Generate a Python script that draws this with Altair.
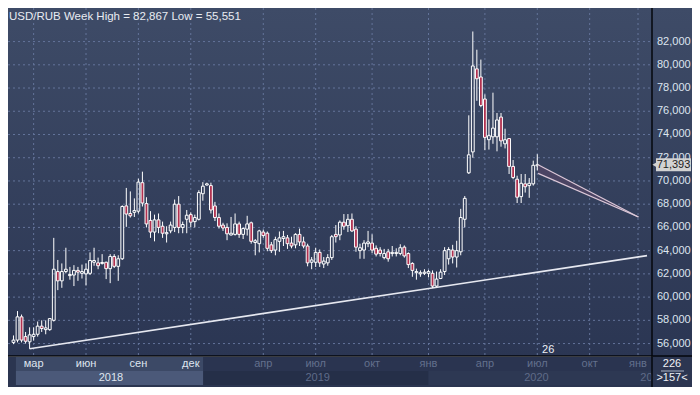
import altair as alt
import pandas as pd

# ---------------- data (weekly USD/RUB candles) ----------------
opens = [56.1, 56.3, 58.3, 56.6, 56.15, 56.6, 56.8, 57.5, 57.2, 57.2,
         58.0, 62.2, 61.4, 62.2, 61.85, 61.9, 62.3, 62.05, 62.0, 62.05,
         63.0, 62.95, 62.9, 63.0, 62.45, 63.5, 62.65, 63.3, 67.85, 67.2,
         67.3, 67.4, 69.85, 68.05, 66.6, 65.6, 66.65, 66.1, 65.45, 65.7,
         66.0, 68.0, 66.0, 66.7, 67.1, 66.5, 66.7, 68.9, 69.65, 69.6,
         67.85, 66.85, 66.2, 66.0, 65.35, 65.4, 66.3, 65.4, 65.85, 66.4,
         64.7, 64.6, 65.6, 65.5, 64.5, 64.05, 64.8, 65.05, 65.1, 64.65,
         64.5, 65.4, 64.75, 64.4, 63.0, 63.0, 63.85, 62.85, 62.95, 63.4,
         65.4, 65.35, 66.45, 66.15, 66.7, 65.85, 64.0, 64.05, 64.6, 64.65,
         64.2, 64.05, 63.4, 63.9, 63.75, 63.75, 63.75, 64.3, 63.75, 62.9,
         62.1, 62.0, 62.05, 62.05, 62.05, 60.95, 61.6, 62.2, 63.3, 64.05,
         63.45, 63.9, 66.7, 70.7, 72.5, 79.65, 78.95, 77.05, 73.55, 73.8,
         73.8, 75.5, 73.2, 73.65, 71.25, 70.15, 68.65, 69.75, 69.6, 69.75,
         71.3]
highs = [56.7, 58.8, 58.5, 57.0, 57.4, 57.4, 57.9, 58.0, 58.0, 58.2,
         65.1, 63.2, 62.9, 64.25, 62.6, 62.75, 62.6, 62.8, 62.9, 63.85,
         64.25, 63.4, 63.7, 63.05, 63.7, 63.7, 63.6, 67.9, 69.4, 69.1,
         68.5, 70.2, 70.8, 68.6, 67.4, 67.1, 67.2, 66.5, 66.1, 66.5,
         68.4, 68.7, 66.5, 67.5, 67.3, 67.1, 69.2, 69.9, 69.85, 69.85,
         68.2, 67.2, 66.4, 66.35, 66.9, 67.2, 66.5, 66.0, 67.0, 66.5,
         65.0, 65.8, 65.8, 65.65, 64.75, 65.2, 65.65, 65.7, 65.35, 65.2,
         65.5, 65.9, 65.2, 64.6, 63.45, 64.25, 64.1, 63.45, 63.7, 65.35,
         66.2, 66.6, 67.15, 67.15, 67.2, 66.1, 64.6, 64.9, 65.7, 65.4,
         64.45, 64.3, 64.15, 64.15, 64.4, 64.2, 64.55, 64.45, 63.85, 63.0,
         62.45, 62.3, 62.4, 62.35, 62.3, 62.2, 62.4, 64.3, 64.3, 64.5,
         64.85, 67.6, 68.7, 75.65, 82.867, 81.3, 80.45, 77.45, 75.3, 77.6,
         75.85, 75.85, 74.5, 73.65, 71.8, 70.45, 70.6, 70.6, 70.25, 71.75,
         72.3]
lows = [55.95, 56.1, 56.1, 56.0, 55.551, 56.25, 56.6, 57.0, 56.8, 57.1,
        57.9, 60.6, 60.8, 62.05, 61.5, 60.95, 61.4, 61.6, 61.0, 61.9,
        62.7, 62.4, 62.8, 61.55, 61.2, 62.5, 61.4, 63.2, 66.05, 66.85,
        66.9, 67.2, 67.8, 66.0, 65.1, 64.8, 65.5, 65.1, 64.7, 65.5,
        65.6, 65.5, 65.5, 65.5, 66.0, 66.0, 66.6, 68.3, 69.6, 67.2,
        66.55, 65.9, 65.7, 64.9, 65.3, 65.3, 65.1, 65.0, 65.3, 64.6,
        63.6, 63.85, 65.1, 63.95, 63.8, 63.6, 63.9, 64.4, 64.15, 64.2,
        64.2, 64.4, 64.2, 62.65, 62.4, 62.6, 62.6, 62.5, 62.7, 63.2,
        64.7, 64.9, 65.8, 65.6, 65.6, 63.9, 63.3, 63.3, 64.3, 63.8,
        63.5, 63.5, 63.25, 63.05, 63.5, 63.5, 63.6, 63.4, 62.5, 61.75,
        61.5, 61.75, 61.9, 61.7, 60.8, 60.85, 61.55, 61.9, 62.8, 62.9,
        62.55, 63.6, 66.0, 70.6, 72.0, 76.9, 76.35, 72.65, 72.7, 73.2,
        72.55, 72.95, 72.8, 70.6, 70.15, 68.1, 68.1, 69.0, 68.55, 69.6,
        70.9]
closes = [56.3, 58.3, 56.3, 56.2, 56.75, 56.8, 57.5, 57.3, 57.35, 58.15,
          62.4, 61.4, 62.2, 62.4, 61.95, 62.3, 62.15, 62.2, 62.4, 63.15,
          63.15, 62.7, 62.98, 62.45, 63.5, 62.65, 63.3, 67.8, 67.15, 67.0,
          67.45, 69.9, 68.1, 66.3, 65.6, 66.65, 66.0, 65.5, 65.55, 66.2,
          68.0, 66.0, 66.25, 67.05, 66.45, 66.85, 69.0, 69.55, 69.75, 67.5,
          66.85, 66.1, 65.95, 65.45, 65.5, 66.3, 65.4, 65.9, 66.3, 64.8,
          64.85, 65.7, 65.3, 64.2, 64.0, 64.95, 65.1, 65.2, 64.6, 64.4,
          65.4, 64.75, 64.4, 62.95, 63.2, 63.85, 62.95, 63.1, 63.4, 65.2,
          65.2, 66.45, 66.1, 66.7, 65.7, 64.3, 64.25, 64.65, 64.75, 64.05,
          63.7, 63.75, 63.75, 63.3, 63.85, 63.85, 64.25, 63.55, 62.8, 62.3,
          62.2, 62.1, 62.15, 62.2, 60.95, 61.55, 62.15, 64.0, 64.1, 63.45,
          64.0, 66.85, 68.5, 72.25, 79.9, 78.8, 76.5, 73.75, 73.9, 74.55,
          75.25, 73.45, 73.55, 71.25, 70.3, 68.6, 69.8, 69.5, 69.8, 71.35,
          71.393]

price_ticks = [56, 58, 60, 62, 64, 66, 68, 70, 72, 74, 76, 78, 80, 82]
month_pos = [5, 18, 31, 44, 62, 75, 89, 103, 117, 130, 143, 155]
month_labels = ["мар", "июн", "сен", "дек", "апр", "июл", "окт", "янв", "апр", "июл", "окт", "янв"]
year_labels = ["2018", "2019", "2020", "2021"]
year_pos = [24.2, 75.5, 129.8, 158.6]
year_start = [0.6, 47.1, 103.0, 157.3]
year_end = [47.1, 103.0, 157.3, 170.0]

trend_x = [4, 157.23]
trend_y = [55.551, 63.57]
wedge_x = [130.2, 155.1]
wedge_top = [71.4, 66.9]
wedge_bot = [70.65, 66.9]
last_price = 71.393
title_text = "USD/RUB Week High = 82,867 Low = 55,551"

# ---------------- layout ----------------
W, H = 644, 348
PR, PB = 40, 31
FONT = "Liberation Sans"
NARROW = "Liberation Sans Narrow, Liberation Sans"
xs = alt.Scale(domain=[-0.12, 157.23], nice=False, zero=False)
ys = alt.Scale(domain=[54.93, 84.89], nice=False, zero=False)


def X(f):
    return alt.X(f, type="quantitative", scale=xs, axis=None)


def Y(f):
    return alt.Y(f, type="quantitative", scale=ys, axis=None)


candles = pd.DataFrame({"o": opens, "h": highs, "l": lows, "c": closes})
candles["i"] = range(len(candles))
candles["top"] = candles[["o", "c"]].max(axis=1)
candles["bot"] = candles[["o", "c"]].min(axis=1)
candles["up"] = candles["c"] >= candles["o"]

one = pd.DataFrame({"a": [0]})

bg = alt.Chart(one).mark_rect(
    fill=alt.Gradient(gradient="linear", x1=0, x2=0, y1=0, y2=1,
                      stops=[alt.GradientStop(color="#3e4b67", offset=0),
                             alt.GradientStop(color="#2b3653", offset=1)])
).encode(x=alt.value(0), x2=alt.value(W + PR), y=alt.value(0), y2=alt.value(H))

ticks_df = pd.DataFrame({"v": price_ticks})
hgrid = alt.Chart(ticks_df).mark_rule(
    color="#64749a", strokeDash=[2, 3], strokeWidth=1
).encode(y=Y("v"), x=alt.value(0), x2=alt.value(W))

ylab = alt.Chart(ticks_df).transform_calculate(
    t="replace(format(datum.v, '.3f'), '.', ',')"
).mark_text(font=FONT, fontSize=11, color="#dde4ef", align="left", baseline="middle").encode(
    x=alt.value(W + 5), y=Y("v"), text="t:N")

vgrid = alt.Chart(pd.DataFrame({"i": month_pos})).mark_rule(
    color="#64749a", strokeDash=[2, 3], strokeWidth=1
).encode(x=X("i"), y=alt.value(0), y2=alt.value(H))

trend = alt.Chart(pd.DataFrame({"i": trend_x, "v": trend_y})).mark_line(
    color="#e6e8f0", strokeWidth=1.6
).encode(x=X("i"), y=Y("v"))

wick_up = alt.Chart(candles).mark_rule(color="#ffffff", strokeWidth=1).encode(
    x=X("i"), y=Y("h"), y2="top")
wick_dn = alt.Chart(candles).mark_rule(color="#ffffff", strokeWidth=1).encode(
    x=X("i"), y=Y("bot"), y2="l")

body_up = alt.Chart(candles).transform_filter("datum.up").mark_bar(
    size=2.8, fill="transparent", stroke="#ffffff", strokeWidth=1
).encode(x=X("i"), y=Y("bot"), y2="top")
body_dn = alt.Chart(candles).transform_filter("!datum.up").mark_bar(
    size=2.8, fill="#b0304f", stroke="#ffffff", strokeWidth=1
).encode(x=X("i"), y=Y("bot"), y2="top")

wedge_df = pd.DataFrame({"i": wedge_x, "t": wedge_top, "b": wedge_bot})
wedge = alt.Chart(wedge_df).mark_area(fill="#4b4463", opacity=1).encode(
    x=X("i"), y=Y("t"), y2="b")
wedge_t = alt.Chart(wedge_df).mark_line(color="#dcc8d8", strokeWidth=1.2).encode(
    x=X("i"), y=Y("t"))
wedge_b = alt.Chart(wedge_df).mark_line(color="#dcc8d8", strokeWidth=1.2).encode(
    x=X("i"), y=Y("b"))

# ---- bottom time band ----
yb = pd.DataFrame({"s": year_start, "e": year_end, "y": year_labels, "p": year_pos,
                   "mrow": ["#3c4966", "#2a3450", "#2a3450", "#2a3450"],
                   "yrow": ["#4b5979", "#252f48", "#2d3853", "#2d3853"],
                   "tc": ["#dfe5ef", "#5f6b88", "#5f6b88", "#5f6b88"]})
band_m = alt.Chart(yb).mark_rect().encode(
    x=X("s"), x2="e", y=alt.value(H + 1), y2=alt.value(H + 15),
    fill=alt.Fill("mrow:N", scale=None))
band_y = alt.Chart(yb).mark_rect().encode(
    x=X("s"), x2="e", y=alt.value(H + 15), y2=alt.value(H + 29),
    fill=alt.Fill("yrow:N", scale=None))
year_txt = alt.Chart(yb).mark_text(font=FONT, fontSize=11, baseline="middle").encode(
    x=X("p"), y=alt.value(H + 22), text="y:N", color=alt.Color("tc:N", scale=None))

mdf = pd.DataFrame({"i": month_pos, "t": month_labels,
                    "tc": ["#dfe5ef"] * 4 + ["#63708d"] * 8})
month_txt = alt.Chart(mdf).mark_text(font=FONT, fontSize=11, baseline="middle").encode(
    x=X("i"), y=alt.value(H + 8), text="t:N", color=alt.Color("tc:N", scale=None))

# ---- frame lines and corner box ----
vline = alt.Chart(one).mark_rule(color="#05070c", strokeWidth=1.5).encode(
    x=alt.value(W), y=alt.value(0), y2=alt.value(H + PB))
hline = alt.Chart(one).mark_rule(color="#05070c", strokeWidth=1.5).encode(
    y=alt.value(H), x=alt.value(0), x2=alt.value(W + PR))
corner = alt.Chart(one).mark_rect(fill="#2c3651").encode(
    x=alt.value(W + 1), x2=alt.value(W + PR), y=alt.value(H + 1), y2=alt.value(H + PB))
corner_t1 = alt.Chart(one).mark_text(text="226", font=FONT, fontSize=11, color="#f0f2f6").encode(
    x=alt.value(W + 20), y=alt.value(H + 8))
corner_rule = alt.Chart(one).mark_rule(color="#aab4c8", strokeWidth=1).encode(
    x=alt.value(W + 9), x2=alt.value(W + 32), y=alt.value(H + 15))
corner_t2 = alt.Chart(one).mark_text(text=">157<", font=FONT, fontSize=11, color="#f0f2f6").encode(
    x=alt.value(W + 20), y=alt.value(H + 22))

# ---- price tag ----
tag_df = pd.DataFrame({"v": [last_price], "hi": [last_price + 0.56], "lo": [last_price - 0.56],
                       "t": ["71,393"]})
tag_rect = alt.Chart(tag_df).mark_rect(fill="#d2d2d2").encode(
    x=alt.value(W + 4), x2=alt.value(W + 39), y=Y("hi"), y2="lo")
tag_tri = alt.Chart(tag_df).mark_point(shape="triangle-left", filled=True, color="#d2d2d2",
                                      size=35, opacity=1).encode(
    x=alt.value(W + 3), y=Y("v"))
tag_txt = alt.Chart(tag_df).mark_text(font=FONT, fontSize=11, color="#1c1c1c",
                                      baseline="middle").encode(
    x=alt.value(W + 21.5), y=Y("v"), text="t:N")

# ---- texts ----
title = alt.Chart(one).mark_text(text=title_text, font=NARROW, fontSize=11.5, color="#e8ebf2",
                                 align="left", baseline="middle").encode(
    x=alt.value(1), y=alt.value(9))
wk_df = pd.DataFrame({"i": [132.7], "v": [55.42], "t": ["26"]})
wk_txt = alt.Chart(wk_df).mark_text(font=FONT, fontSize=11, color="#eef0f5",
                                    baseline="middle").encode(
    x=X("i"), y=Y("v"), text="t:N")

chart = alt.layer(
    bg, hgrid, vgrid, trend, wick_up, wick_dn, body_up, body_dn,
    wedge, wedge_t, wedge_b,
    band_m, band_y, month_txt, year_txt,
    vline, hline, ylab, corner, corner_t1, corner_rule, corner_t2,
    tag_rect, tag_tri, tag_txt, title, wk_txt
).properties(
    width=W, height=H,
    padding={"left": 0, "top": 0, "right": PR, "bottom": PB},
    autosize=alt.AutoSizeParams(type="none")
).configure_view(stroke=None).configure(background="#2b3550")

chart.save("out.html", embed_options={"renderer": "svg", "actions": False})
